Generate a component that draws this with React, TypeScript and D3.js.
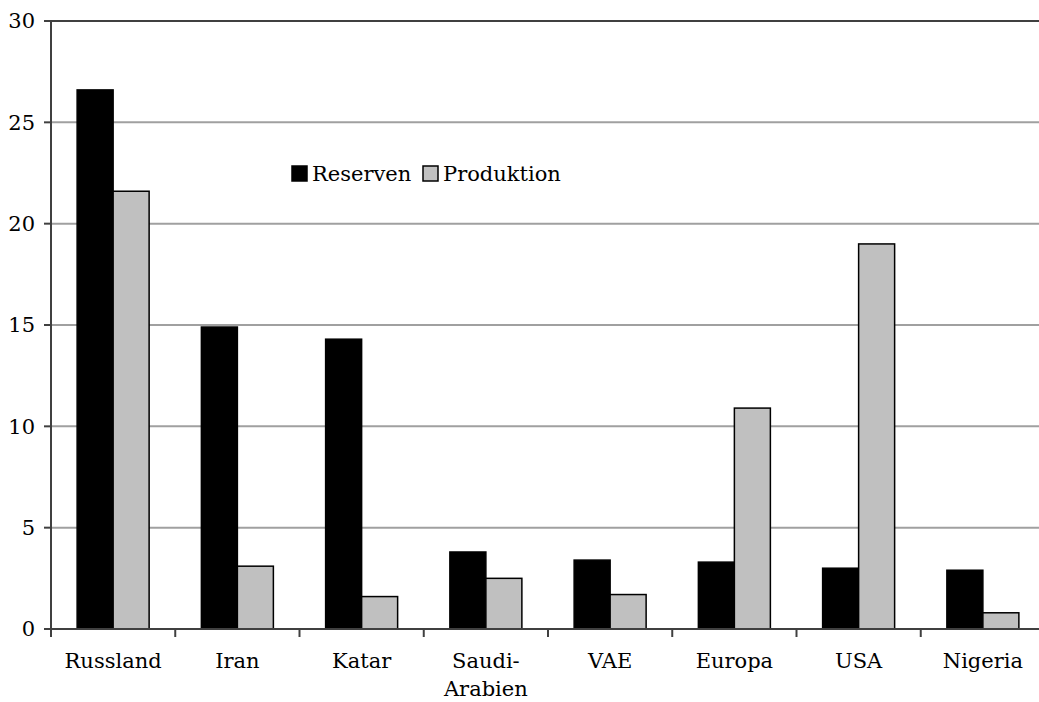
import React from "react";
import * as d3 from "d3";

const categories = ["Russland", "Iran", "Katar", "Saudi-\nArabien", "VAE", "Europa", "USA", "Nigeria"];
const reserven = [26.6, 14.9, 14.3, 3.8, 3.4, 3.3, 3.0, 2.9];
const produktion = [21.6, 3.1, 1.6, 2.5, 1.7, 10.9, 19.0, 0.8];
const yTicks = [0, 5, 10, 15, 20, 25, 30];
const seriesNames = ["Reserven", "Produktion"];
const seriesColors = ["#000000", "#c0c0c0"];

const W = 1039;
const H = 702;
const left = 51;
const right = 1045;
const top = 21;
const bottom = 629;
const font = "'DejaVu Serif', serif";
const fs = 21;

export default function App() {
  const x = d3.scaleBand<string>().domain(categories).range([left, right]).padding(0);
  const y = d3.scaleLinear().domain([0, 30]).range([bottom, top]);
  const bw = 36;
  const series = [reserven, produktion];
  return (
    <svg width={W} height={H} style={{ position: "absolute", left: 0, top: 0, background: "#fff" }}>
      {yTicks.filter((t) => t > 0 && t < 30).map((t) => (
        <line key={"g" + t} x1={left} x2={W} y1={y(t)} y2={y(t)} stroke="#a0a0a0" strokeWidth={2} />
      ))}
      <line x1={left} x2={W} y1={y(30)} y2={y(30)} stroke="#404040" strokeWidth={2} />
      {categories.map((c, i) =>
        series.map((s, j) => {
          const bx = (x(c) as number) + x.bandwidth() / 2 - bw + j * bw;
          return (
            <rect key={c + j} x={bx} y={y(s[i])} width={bw} height={y(0) - y(s[i])} fill={seriesColors[j]} stroke="#000" strokeWidth={1.5} />
          );
        })
      )}
      <line x1={left} x2={left} y1={top - 1} y2={bottom + 1} stroke="#404040" strokeWidth={2} />
      <line x1={left - 7} x2={W} y1={bottom} y2={bottom} stroke="#404040" strokeWidth={2} />
      {yTicks.map((t) => (
        <g key={"t" + t}>
          <line x1={left - 7} x2={left} y1={y(t)} y2={y(t)} stroke="#404040" strokeWidth={2} />
          <text x={35} y={y(t)} dy="0.35em" textAnchor="end" fontFamily={font} fontSize={fs} fill="#000">{t}</text>
        </g>
      ))}
      {categories.map((c, i) => (
        <g key={"x" + c}>
          <line x1={(x(c) as number)} x2={(x(c) as number)} y1={bottom} y2={bottom + 8} stroke="#404040" strokeWidth={2} />
          <text x={(x(c) as number) + x.bandwidth() / 2} y={668} textAnchor="middle" fontFamily={font} fontSize={fs} fill="#000">
            {c.split("\n").map((line, k) => (
              <tspan key={k} x={(x(c) as number) + x.bandwidth() / 2} dy={k === 0 ? 0 : 28}>{line}</tspan>
            ))}
          </text>
        </g>
      ))}
      <g>
        <rect x={292} y={166} width={15} height={15} fill={seriesColors[0]} stroke="#000" strokeWidth={1.5} />
        <text x={312} y={181} fontFamily={font} fontSize={fs} fill="#000">{seriesNames[0]}</text>
        <rect x={423} y={166} width={15} height={15} fill={seriesColors[1]} stroke="#000" strokeWidth={1.5} />
        <text x={443} y={181} fontFamily={font} fontSize={fs} fill="#000">{seriesNames[1]}</text>
      </g>
    </svg>
  );
}
